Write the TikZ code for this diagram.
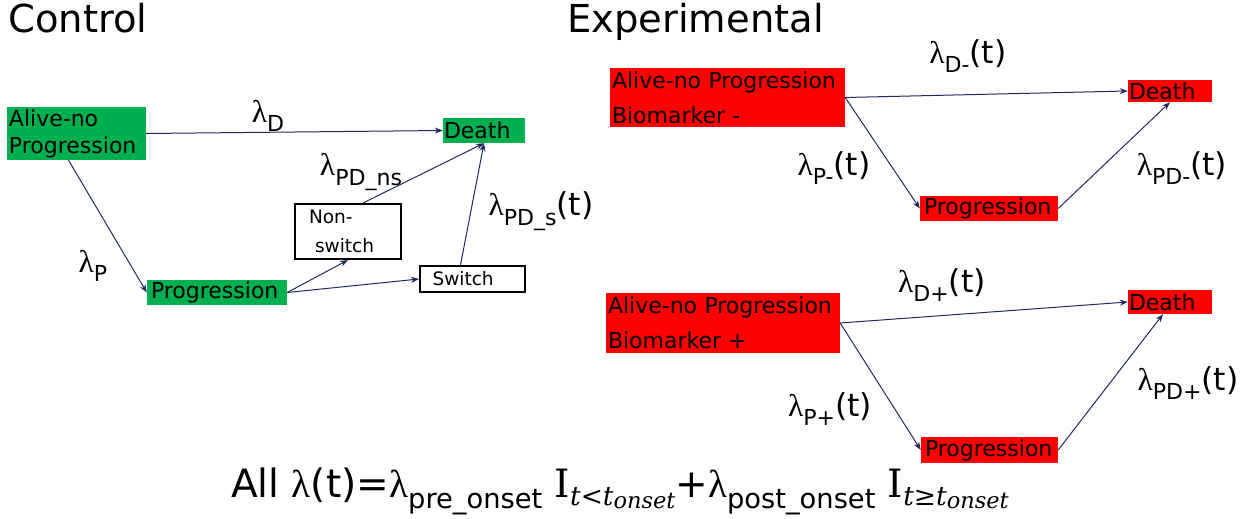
\documentclass[tikz,border=0pt]{standalone}
\usepackage{graphicx}
\usepackage{fontspec}
\setmainfont{DejaVu Sans}
\newfontfamily\lamf{Liberation Serif}
\newfontfamily\indf{DejaVu Serif}
\usetikzlibrary{arrows.meta}

\definecolor{ctrlgreen}{RGB}{0,176,80}
\definecolor{exred}{RGB}{255,0,0}
\definecolor{arrnavy}{RGB}{32,42,96}

% lowered, shrunk index and a rate symbol
\newcommand{\lowsub}[1]{\raisebox{-0.3em}{\scalebox{0.7}{#1}}}
\newcommand{\rate}[2]{{\lamf λ}\lowsub{#1}#2}
% indicator with its condition
\newcommand{\indic}[1]{{\indf I}\raisebox{-8pt}{\fontsize{26.5}{26}\indf\itshape #1\raisebox{-3pt}{\fontsize{22.5}{22}\selectfont onset}}}

\tikzset{
  greenbox/.style={fill=ctrlgreen, inner sep=0pt, align=left, font=\fontsize{22}{27}\selectfont},
  redbox/.style={fill=exred, inner sep=0pt, align=left, font=\fontsize{22}{35}\selectfont},
  whitebox/.style={draw=black, line width=2pt, fill=white, inner sep=0pt, align=left, font=\fontsize{18.5}{29}\selectfont},
  arr/.style={draw=arrnavy, line width=1pt, -{Stealth[length=8pt,width=6pt]}},
  lab/.style={inner sep=0pt, font=\fontsize{31.5}{34}\selectfont},
  ttl/.style={inner sep=0pt, anchor=base west, font=\fontsize{38.5}{44}\selectfont}
}

\begin{document}
\begin{tikzpicture}[x=1pt, y=-1pt]

  %% ════ titles ════
  \node[ttl] (tctrl) at (8,33) {Control};
  \node[ttl] (texp) at (567,33) {Experimental};

  %% ════ control states ════
  \node[greenbox, minimum width=139, minimum height=53, text width=135] (calive) at (76.5,133.5) {Alive-no\\Progression};
  \node[greenbox, minimum width=82, minimum height=25, text width=80] (cdeath) at (484,130.5) {Death};
  \node[greenbox, minimum width=140, minimum height=25, text width=132] (cprog) at (217,292.5) {Progression};
  \node[whitebox, minimum width=106, minimum height=55, text width=78] (nonsw) at (348,231.5) {Non-\\\hspace*{6pt}switch};
  \node[whitebox, minimum width=105, minimum height=26, text width=80] (sw) at (472.5,279) {Switch};

  %% ════ experimental states ════
  \node[redbox, minimum width=235, minimum height=59, text width=231] (ealivem) at (727.5,97.5) {Alive-no Progression\\Biomarker -};
  \node[redbox, minimum width=84, minimum height=22, text width=82] (edeathm) at (1170,91) {Death};
  \node[redbox, minimum width=138, minimum height=25, text width=130] (eprogm) at (989,208.5) {Progression};
  \node[redbox, minimum width=234, minimum height=60, text width=230] (ealivep) at (723,323) {Alive-no Progression\\Biomarker +};
  \node[redbox, minimum width=84, minimum height=24, text width=82] (edeathp) at (1170,302) {Death};
  \node[redbox, minimum width=137, minimum height=26, text width=129] (eprogp) at (989.5,450) {Progression};

  %% ════ transitions ════
  \draw[arr] (calive.east) -- (cdeath.west);
  \draw[arr] ([xshift=-8pt]calive.south) -- (cprog.west);
  \draw[arr] (cprog.east) -- (nonsw.south);
  \draw[arr] (cprog.east) -- (sw.west);
  \draw[arr] ([xshift=15pt]nonsw.north) -- (cdeath.south);
  \draw[arr] ([xshift=-12pt]sw.north) -- (cdeath.south);

  \draw[arr] (ealivem.east) -- (edeathm.west);
  \draw[arr] (ealivem.east) -- (eprogm.west);
  \draw[arr] (eprogm.east) -- (edeathm.south);
  \draw[arr] (ealivep.east) -- (edeathp.west);
  \draw[arr] (ealivep.east) -- (eprogp.west);
  \draw[arr] (eprogp.east) -- ([xshift=-7pt]edeathp.south);

  %% ════ rates ════
  \node[lab] (lD) at (268,116) {\rate{D}{}};
  \node[lab] (lP) at (93,266) {\rate{P}{}};
  \node[lab] (lPDns) at (361,172) {\rate{PD\_ns}{}};
  \node[lab] (lPDs) at (541,211) {\rate{PD\_s}{(t)}};

  \node[lab] (lDm) at (968,56) {\rate{D-}{(t)}};
  \node[lab] (lPm) at (834,168) {\rate{P-}{(t)}};
  \node[lab] (lPDm) at (1182,168) {\rate{PD-}{(t)}};
  \node[lab] (lDp) at (942,285) {\rate{D+}{(t)}};
  \node[lab] (lPp) at (830,409) {\rate{P+}{(t)}};
  \node[lab] (lPDp) at (1188,383) {\rate{PD+}{(t)}};

  %% ════ formula ════
  \node[inner sep=0pt, anchor=base west, font=\fontsize{39}{44}\selectfont] (formula) at (231,497)
    {All {\lamf λ}(t)=\rate{pre\_onset}{} \indic{t<t}+\rate{post\_onset}{} \indic{t≥t}};

  \pgfresetboundingbox
  \path[use as bounding box] (0,0) rectangle (1256,519);
\end{tikzpicture}
\end{document}
